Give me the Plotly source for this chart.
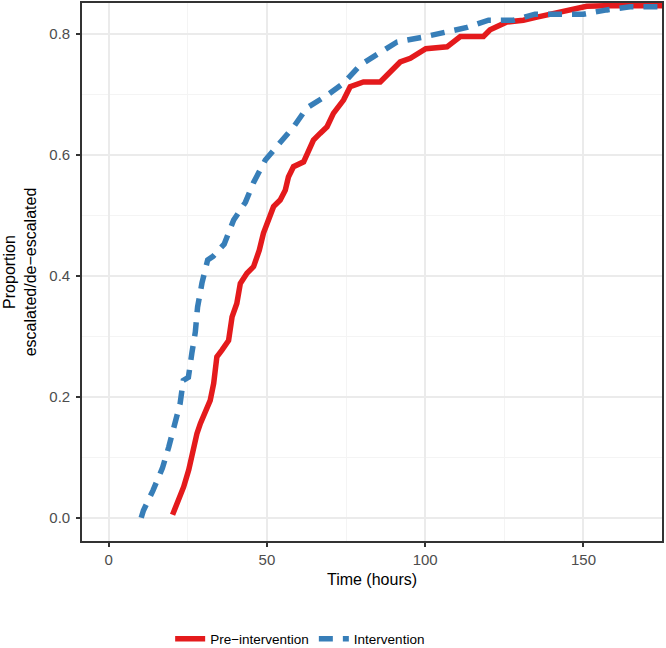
import plotly.graph_objects as go

# Pre-intervention (red, solid)
pre_time = [20.2, 22.1, 23.7, 25.3, 26.3, 27.9, 29.0, 30.5, 32.1, 33.2, 34.2, 35.8, 37.9, 39.0,
            40.5, 41.6, 43.7, 45.8, 47.6, 48.9, 50.5, 52.1, 54.2, 55.8, 56.8, 58.4, 61.6, 63.2,
            64.7, 66.8, 69.0, 71.0, 74.2, 76.3, 80.5, 85.8, 87.9, 90.0, 92.1, 95.3, 97.4, 100.2,
            106.9, 111.1, 118.4, 120.5, 125.8, 131.0, 135.3, 140.5, 144.7, 151.0, 157.4, 176.0]
pre_prop = [0.005, 0.029, 0.051, 0.079, 0.106, 0.139, 0.156, 0.172, 0.194, 0.222, 0.266, 0.277,
            0.293, 0.332, 0.354, 0.387, 0.404, 0.415, 0.442, 0.470, 0.492, 0.514, 0.525, 0.541,
            0.563, 0.580, 0.588, 0.605, 0.624, 0.635, 0.646, 0.668, 0.690, 0.712, 0.720, 0.720,
            0.731, 0.745, 0.753, 0.759, 0.767, 0.775, 0.778, 0.795, 0.795, 0.806, 0.819, 0.822,
            0.827, 0.833, 0.840, 0.845, 0.846, 0.846]

# Intervention (blue, dashed)
int_time = [10.3, 11.0, 14.0, 17.0, 19.0, 21.0, 22.6, 23.6, 25.2, 26.3, 27.4, 28.1, 29.5, 31.3,
            33.0, 36.5, 39.5, 43.2, 45.8, 49.5, 54.2, 58.6, 62.6, 69.0, 74.2, 79.5, 85.3, 91.1,
            99.3, 105.8, 113.2, 120.0, 127.9, 134.7, 142.6, 150.0, 157.4, 164.7, 176.0]
int_prop = [0.0, 0.012, 0.045, 0.082, 0.117, 0.153, 0.189, 0.227, 0.232, 0.272, 0.307, 0.348,
            0.388, 0.426, 0.432, 0.452, 0.492, 0.521, 0.554, 0.591, 0.619, 0.647, 0.677, 0.698,
            0.718, 0.748, 0.767, 0.786, 0.794, 0.802, 0.810, 0.822, 0.822, 0.832, 0.832, 0.832,
            0.839, 0.844, 0.844]

x_ticks = [0, 50, 100, 150]
y_ticks = [0.0, 0.2, 0.4, 0.6, 0.8]
y_tick_text = ["0.0", "0.2", "0.4", "0.6", "0.8"]

FONT = "Liberation Sans, Arial, sans-serif"

fig = go.Figure()
fig.add_trace(go.Scatter(x=pre_time, y=pre_prop, mode="lines", name="Pre\u2212intervention",
                         line=dict(color="#E41A1C", width=5.5)))
fig.add_trace(go.Scatter(x=int_time, y=int_prop, mode="lines", name="Intervention",
                         line=dict(color="#377EB8", width=5.5, dash="14px,10px")))

axis_common = dict(
    showline=True, linecolor="#333333", linewidth=1.6, mirror=True,
    ticks="outside", ticklen=4, tickwidth=1.6, tickcolor="#333333",
    gridcolor="#EBEBEB", gridwidth=1.6, zeroline=False, automargin=False,
    tickfont=dict(family=FONT, size=15, color="#4D4D4D"),
)

fig.update_layout(
    width=666, height=648,
    margin=dict(l=82, r=4, t=3, b=107, autoexpand=False),
    paper_bgcolor="white", plot_bgcolor="white",
    font=dict(family=FONT, color="black"),
    xaxis=dict(range=[-8.4, 174.8], tickvals=x_ticks,
               minor=dict(dtick=25, tick0=25, showgrid=True, gridcolor="#F4F4F4", gridwidth=1),
               title=dict(text="Time (hours)", font=dict(family=FONT, size=16, color="black"), standoff=7),
               **axis_common),
    yaxis=dict(range=[-0.0383, 0.8504], tickvals=y_ticks, ticktext=y_tick_text,
               ticklabelstandoff=3,
               minor=dict(dtick=0.1, tick0=0.1, showgrid=True, gridcolor="#F4F4F4", gridwidth=1),
               title=dict(text="Proportion<br>escalated/de\u2212escalated",
                          font=dict(family=FONT, size=16, color="black"), standoff=9),
               **axis_common),
    legend=dict(orientation="h", x=0.152, y=-0.182, xanchor="left", yanchor="middle",
                font=dict(family=FONT, size=13.5, color="black"), bgcolor="rgba(0,0,0,0)",
                itemwidth=30),
    showlegend=True,
)

fig.write_html("out.html", config={"displayModeBar": False},
               post_script="document.body.style.margin='0';document.body.style.overflow='hidden';")
